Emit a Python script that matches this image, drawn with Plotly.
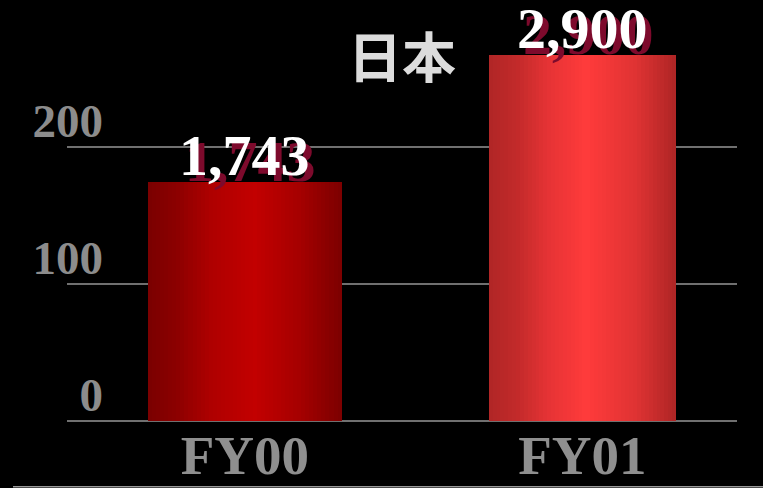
import plotly.graph_objects as go

# ---- data ----
categories = ["FY00", "FY01"]
values = [1743, 2900]          # shown as labels
axis_unit = 10                 # axis is in tens (0, 100, 200)
tick_vals = [0, 100, 200]
tick_text = ["0", "100", "200"]
title_text = "日本"

# ---- style ----
bar_widths = [0.573, 0.555]
grad_stops = [
    [(0.0, (0x7a, 0x00, 0x00)), (0.15, (0x8c, 0x00, 0x00)), (0.32, (0xae, 0x00, 0x00)),
     (0.55, (0xc2, 0x00, 0x00)), (0.78, (0xa6, 0x00, 0x00)), (1.0, (0x7c, 0x00, 0x00))],
    [(0.0, (0xb0, 0x26, 0x26)), (0.15, (0xc2, 0x2a, 0x2a)), (0.32, (0xe6, 0x33, 0x35)),
     (0.52, (0xff, 0x3b, 0x3b)), (0.78, (0xe0, 0x33, 0x33)), (1.0, (0xae, 0x25, 0x25))],
]
N = 48
y_top = 267.2


def grad(stops, t):
    for (p0, c0), (p1, c1) in zip(stops, stops[1:]):
        if p0 <= t <= p1:
            f = (t - p0) / (p1 - p0) if p1 > p0 else 0
            c = [round(a + (b - a) * f) for a, b in zip(c0, c1)]
            return "rgb(%d,%d,%d)" % tuple(c)
    return "rgb(%d,%d,%d)" % stops[-1][1]


heights = [v / axis_unit for v in values]

fig = go.Figure()
for i in range(N):
    t = (i + 0.5) / N
    fig.add_trace(go.Bar(
        x=categories,
        y=heights,
        width=[w / N * 1.08 for w in bar_widths],
        offset=[-w / 2 + i * w / N for w in bar_widths],
        marker=dict(color=[grad(grad_stops[k], t) for k in range(len(categories))],
                    line=dict(width=0)),
        hoverinfo="skip",
        showlegend=False,
    ))

serif = "Liberation Serif"
for k, cat in enumerate(categories):
    fig.add_annotation(
        x=cat, y=min(heights[k], y_top), xref="x", yref="y",
        text=f"{values[k]:,}", showarrow=False, yanchor="bottom",
        yshift=-8,
        font=dict(family=serif, size=58, color="#ffffff", weight="bold",
                  shadow="6px 6px 0px #7d0a2c"),
    )

fig.update_layout(
    width=763, height=488,
    margin=dict(l=67, r=26, t=55, b=66, autoexpand=False),
    paper_bgcolor="#000000", plot_bgcolor="#000000",
    barmode="overlay",
    bargap=0,
    title=dict(text=title_text, x=0.5, xref="paper", xanchor="center",
               y=1 - 59 / 488, yref="container", yanchor="middle",
               font=dict(family="Noto Sans CJK JP", size=54, color="#dcdcdc", weight="bold")),
    xaxis=dict(
        type="category",
        range=[-0.527, 1.458],
        automargin=False,
        showgrid=False, zeroline=False, showline=False, ticks="",
        tickfont=dict(family=serif, size=55, color="#8f8f8f", weight="bold"),
        ticklabelstandoff=-4,
        fixedrange=True,
    ),
    yaxis=dict(
        range=[-1, y_top],
        automargin=False,
        tickvals=tick_vals, ticktext=tick_text,
        showgrid=True, gridcolor="#707070", gridwidth=1.5,
        zeroline=False, showline=False, ticks="",
        tickfont=dict(family=serif, size=47, color="#8c8c8c", weight="bold"),
        ticklabelshift=-26,
        ticklabelstandoff=-37,
        fixedrange=True,
    ),
    shapes=[dict(type="line", xref="paper", yref="paper",
                 x0=(13 - 67) / 670, x1=(763 - 67) / 670,
                 y0=(422.2 - 487) / 367.2, y1=(422.2 - 487) / 367.2,
                 line=dict(color="#9a9a9a", width=1.5))],
)

fig.write_html("out.html",
               config={"displayModeBar": False},
               post_script="document.body.style.margin='0';document.body.style.overflow='hidden';")
